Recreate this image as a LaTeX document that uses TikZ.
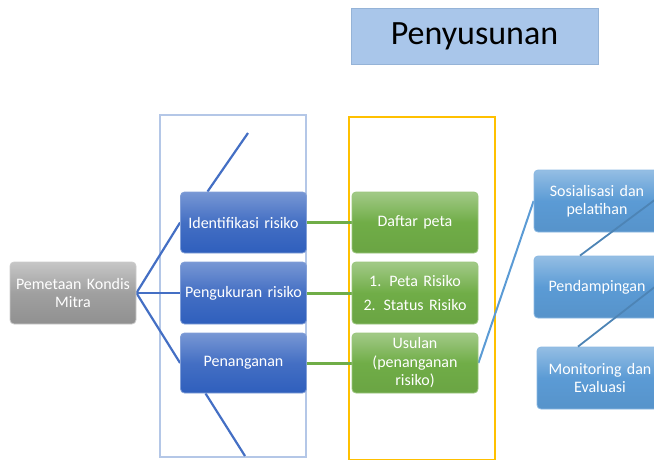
\documentclass[tikz,border=0pt]{standalone}
\usepackage{fontspec}
\setmainfont{Carlito}
\usetikzlibrary{backgrounds}
\definecolor{dblue}{HTML}{2F5FBD}
\definecolor{lblue}{HTML}{5B9BD5}
\definecolor{grn}{HTML}{70AD47}
\definecolor{gry}{HTML}{A0A0A0}
\definecolor{frameblue}{HTML}{B4C7E7}
\definecolor{frameyel}{HTML}{FFC000}
\definecolor{titlefill}{HTML}{A9C6EA}
\definecolor{titledraw}{HTML}{95B3D7}
\tikzset{
  box/.style={rounded corners=4pt, minimum width=123pt, minimum height=61pt,
    text width=126pt, align=center, font=\fontsize{16}{18.5}\selectfont, text=white, inner sep=0pt},
  bluebox/.style={box, top color=dblue!65!white, bottom color=dblue, middle color=dblue!90!white, draw=dblue!60!white, line width=0.8pt},
  greenbox/.style={box, top color=grn!65!white, bottom color=grn!95!black, middle color=grn, draw=grn!70!white, line width=0.8pt},
  lbluebox/.style={box, top color=lblue!65!white, bottom color=lblue!95!black, middle color=lblue, draw=lblue!70!white, line width=0.8pt},
  graybox/.style={box, top color=gry!60!white, bottom color=gry!90!black, middle color=gry, draw=gry!55!white, line width=0.8pt},
  bconn/.style={draw=dblue!90!white, line width=2.2pt},
  gconn/.style={draw=grn, line width=3pt},
  lconn/.style={draw=lblue, line width=2pt},
  lconntop/.style={draw=lblue!85!black, line width=1.8pt},
}
\begin{document}
\begin{tikzpicture}[x=1pt,y=-1pt]
\useasboundingbox (0,0) rectangle (654,459);
\clip (0,0) rectangle (654,459);
% title
\node[draw=titledraw, fill=titlefill, line width=0.8pt, minimum width=247pt, minimum height=56pt,
  inner sep=0pt, font=\fontsize{34}{38}\selectfont] (title) at (474.5,36) {Penyusunan};
% nodes
\node[graybox, minimum width=122pt, minimum height=62pt] (pem) at (73,293) {Pemetaan Kondis\\Mitra};
\node[bluebox] (ident) at (243.5,222.5) {Identifikasi risiko};
\node[bluebox, minimum height=62pt] (peng) at (243.5,293) {Pengukuran risiko};
\node[bluebox, minimum height=60pt] (pena) at (243.5,363) {Penanganan};
\node[greenbox, minimum width=124pt] (daftar) at (415,222.5) {Daftar peta};
\node[greenbox, minimum width=124pt, minimum height=62pt, font=\fontsize{16}{24}\selectfont] (peta) at (415,293) {1. Peta Risiko\\2. Status Risiko};
\node[greenbox, minimum width=124pt, minimum height=60pt] (usul) at (415,363) {Usulan\\(penanganan\\risiko)};
\node[lbluebox, minimum width=124pt, minimum height=62pt] (sos) at (597,201) {Sosialisasi dan\\pelatihan};
\node[lbluebox, minimum width=124pt, minimum height=62pt] (pend) at (597,287) {Pendampingan};
\node[lbluebox, minimum width=124pt, minimum height=62pt] (mon) at (600,378) {Monitoring dan\\Evaluasi};
% free ends
\coordinate (topend) at (248,133);
\coordinate (botend) at (245,456);
\coordinate (rend1) at (656,199);
\coordinate (rend2) at (656,286);
\begin{scope}[on background layer]
% frames
\draw[frameblue, line width=2pt] (160,115) rectangle (306,457);
\draw[frameyel, line width=2pt] (349,117) rectangle (495,460);
% connectors
\draw[bconn] (pem.east) -- (ident.west);
\draw[bconn] (pem.east) -- (peng.west);
\draw[bconn] (pem.east) -- (pena.west);
\draw[bconn] ([xshift=-36pt]ident.north) -- (topend);
\draw[bconn] ([xshift=-38pt]pena.south) -- (botend);
\draw[gconn] (ident.east) -- (daftar.west);
\draw[gconn] (peng.east) -- (peta.west);
\draw[gconn] (pena.east) -- (usul.west);
\draw[lconn] (usul.east) -- (sos.west);
\end{scope}
\draw[lconntop] ([xshift=-17pt]pend.north) -- (rend1);
\draw[lconntop] ([xshift=-22pt]mon.north) -- (rend2);
\end{tikzpicture}
\end{document}
